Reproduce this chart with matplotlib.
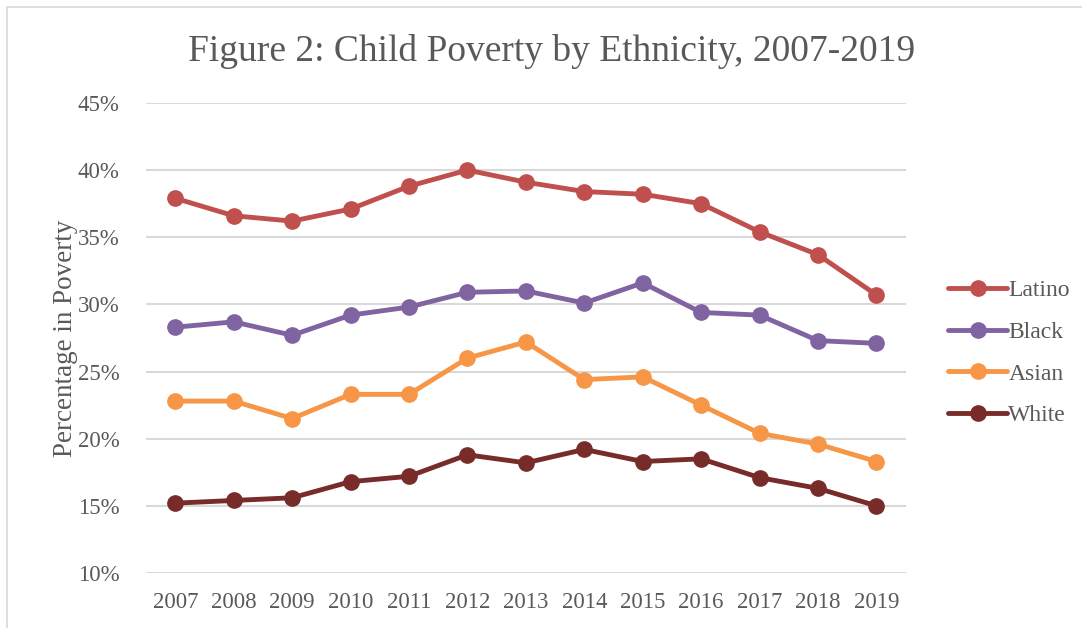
import matplotlib.pyplot as plt
from matplotlib.patches import Rectangle
from matplotlib.ticker import FuncFormatter

plt.rcParams['font.family'] = ['Liberation Serif', 'DejaVu Serif']

years = ['2007', '2008', '2009', '2010', '2011', '2012', '2013',
         '2014', '2015', '2016', '2017', '2018', '2019']
latino = [37.9, 36.6, 36.2, 37.1, 38.8, 40.0, 39.1, 38.4, 38.2, 37.5, 35.4, 33.7, 30.7]
black = [28.3, 28.7, 27.7, 29.2, 29.8, 30.9, 31.0, 30.1, 31.6, 29.4, 29.2, 27.3, 27.1]
asian = [22.8, 22.8, 21.5, 23.3, 23.3, 26.0, 27.2, 24.4, 24.6, 22.5, 20.4, 19.6, 18.3]
white = [15.2, 15.4, 15.6, 16.8, 17.2, 18.8, 18.2, 19.2, 18.3, 18.5, 17.1, 16.3, 15.0]

text_color = '#595959'

fig = plt.figure(figsize=(10.82, 6.28), dpi=100)
ax = fig.add_axes([0.135, 0.0876, 0.702, 0.7485])

# light frame of the chart area
fig.patches.append(Rectangle((0.0065, -0.01), 1.1, 0.999, transform=fig.transFigure,
                             fill=False, edgecolor='#D9D9D9', linewidth=1.2))

x = range(len(years))
series = [('Latino', latino, '#C0504D'),
          ('Black', black, '#8064A2'),
          ('Asian', asian, '#F79646'),
          ('White', white, '#772C2A')]
for name, vals, col in series:
    ax.plot(x, vals, color=col, linewidth=3.5, marker='o', markersize=11,
            label=name, solid_capstyle='round')

ax.set_xlim(-0.5, len(years) - 0.5)
ax.set_ylim(10, 45)
ax.set_yticks(range(10, 46, 5))
ax.yaxis.set_major_formatter(FuncFormatter(lambda v, p: f'{v:.0f}%'))
ax.set_xticks(list(x))
ax.set_xticklabels(years)
ax.grid(axis='y', color='#D9D9D9', linewidth=1.5)
ax.set_axisbelow(True)
for s in ax.spines.values():
    s.set_visible(False)
ax.tick_params(length=0, labelsize=16.5, colors=text_color)
ax.tick_params(axis='x', pad=14)
ax.tick_params(axis='y', pad=19)

ax.set_ylabel('Percentage in Poverty', fontsize=19.5, color=text_color, labelpad=0)
fig.text(0.510, 0.918, 'Figure 2: Child Poverty by Ethnicity, 2007-2019',
         ha='center', va='center', fontsize=27, color=text_color)

leg = ax.legend(loc='center left', bbox_to_anchor=(1.028, 0.468), frameon=False,
                fontsize=17, handlelength=2.5, handletextpad=0.05, labelspacing=0.85,
                labelcolor=text_color)

fig.savefig('out.png', dpi=100)
